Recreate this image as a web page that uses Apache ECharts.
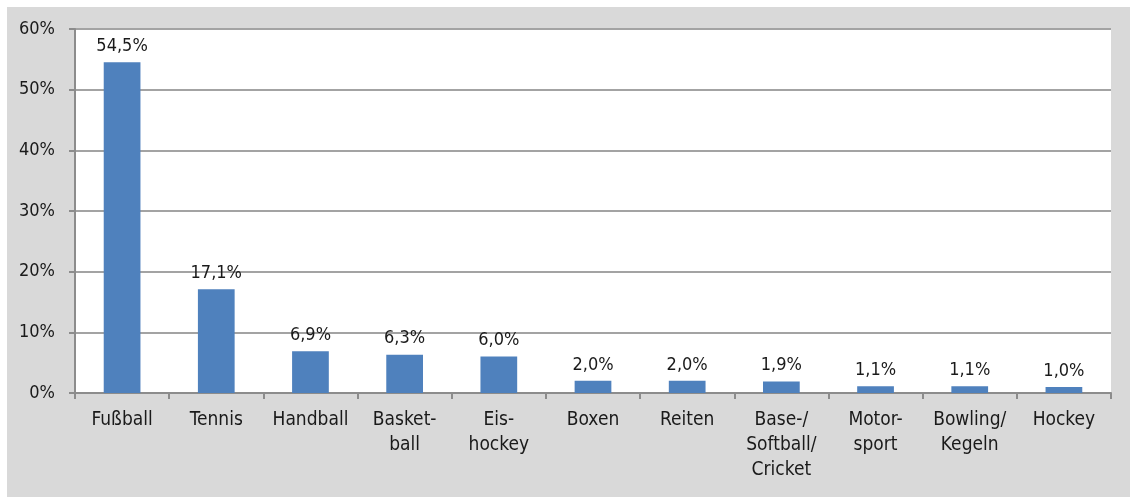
<!DOCTYPE html>
<html><head><meta charset="utf-8">
<script src="https://cdn.jsdelivr.net/npm/echarts@6/dist/echarts.min.js"></script>
<style>html,body{margin:0;padding:0;background:#fff}#c{width:1130px;height:497px}</style>
</head><body><div id="c"></div>
<script>
const categories = ['Fußball','Tennis','Handball','Basket-\nball','Eis-\nhockey','Boxen','Reiten','Base-/\nSoftball/\nCricket','Motor-\nsport','Bowling/\nKegeln','Hockey'];
const values = [54.5,17.1,6.9,6.3,6.0,2.0,2.0,1.9,1.1,1.1,1.0];
const yTicks = {min:0, max:60, interval:10};
const FONT = '"DejaVu Sans Condensed", "DejaVu Sans", sans-serif';
const chart = echarts.init(document.getElementById('c'));
chart.setOption({
  backgroundColor:'#fff',
  animation:false,
  graphic:[{type:'rect', z:-10, shape:{x:7,y:7,width:1123,height:490}, style:{fill:'#d9d9d9'}}],
  grid:{left:75,right:19,top:29,bottom:104,show:true,backgroundColor:'#fff',borderWidth:0},
  xAxis:{type:'category',data:categories,
    axisLine:{lineStyle:{color:'#8c8c8c',width:2}},
    axisTick:{show:true,length:6,alignWithLabel:false,lineStyle:{color:'#8c8c8c',width:2}},
    axisLabel:{color:'#1a1a1a',fontFamily:FONT,fontSize:19,margin:15,lineHeight:25,interval:0}},
  yAxis:{type:'value',min:yTicks.min,max:yTicks.max,interval:yTicks.interval,
    axisLine:{show:true,lineStyle:{color:'#8c8c8c',width:2}},
    axisTick:{show:true,length:6,lineStyle:{color:'#8c8c8c',width:2}},
    splitLine:{lineStyle:{color:'#a3a3a3',width:2}},
    axisLabel:{color:'#1a1a1a',fontFamily:FONT,fontSize:18,margin:20,formatter:'{value}%'}},
  series:[{type:'bar',data:values,barWidth:'39%',
    itemStyle:{color:'#4f81bd'},
    label:{show:true,position:'top',distance:7,color:'#1a1a1a',fontFamily:FONT,fontSize:18,
      formatter:p=>p.value.toFixed(1).replace('.',',')+'%'}}]
});
</script></body></html>
